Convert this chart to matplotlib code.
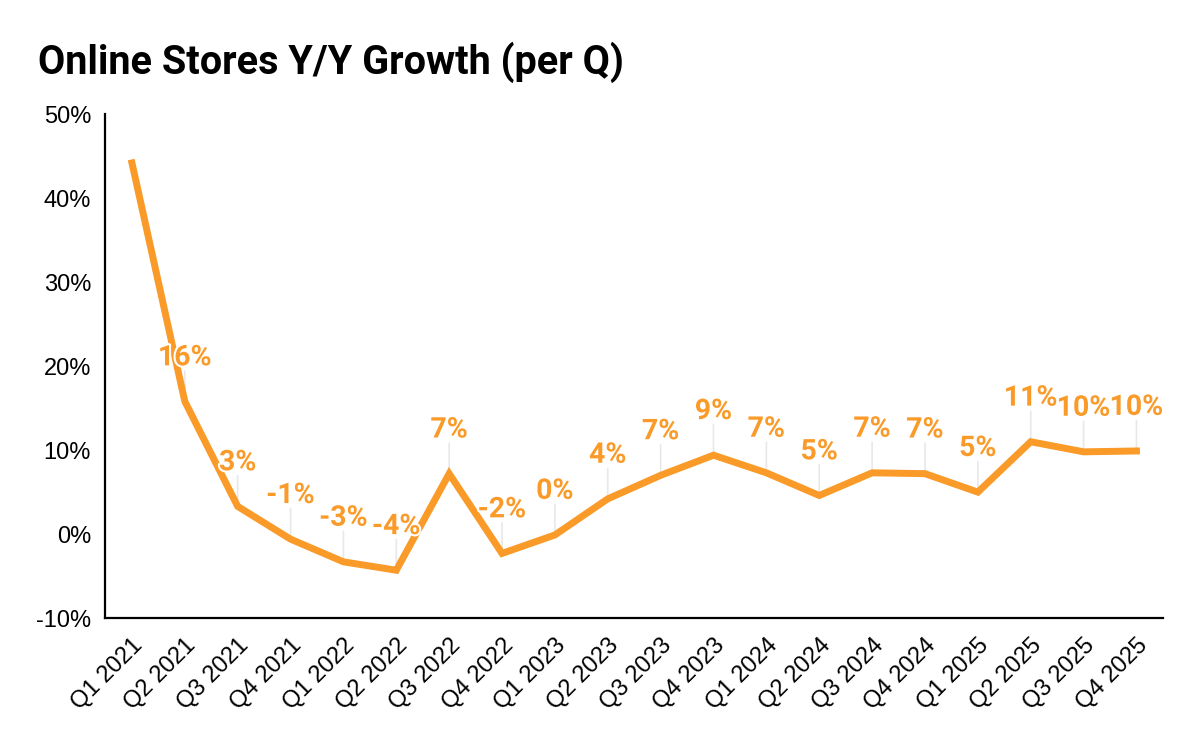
import matplotlib
matplotlib.use('Agg')
import matplotlib.pyplot as plt
import matplotlib.patheffects as pe
from matplotlib.ticker import FuncFormatter

#---- Data -------------------------------------------------------------------#

quarters = ['Q1 2021', 'Q2 2021', 'Q3 2021', 'Q4 2021',
            'Q1 2022', 'Q2 2022', 'Q3 2022', 'Q4 2022',
            'Q1 2023', 'Q2 2023', 'Q3 2023', 'Q4 2023',
            'Q1 2024', 'Q2 2024', 'Q3 2024', 'Q4 2024',
            'Q1 2025', 'Q2 2025', 'Q3 2025', 'Q4 2025']
growth = [44.2, 15.8, 3.3, -0.6, -3.3, -4.3, 7.2, -2.3, -0.1, 4.2,
          7.0, 9.4, 7.3, 4.6, 7.3, 7.2, 5.0, 11.0, 9.8, 9.9]
labels = ['', '16%', '3%', '-1%', '-3%', '-4%', '7%', '-2%', '0%', '4%',
          '7%', '9%', '7%', '5%', '7%', '7%', '5%', '11%', '10%', '10%']

orange = '#FA9A28'

#---- Plotting ---------------------------------------------------------------#

fig = plt.figure(figsize=(12, 7.42), dpi=100)
ax = fig.add_axes([0.0875, 0.167, 0.882, 0.679])

x = list(range(len(quarters)))

#Thin grey leader lines from each point up to its label
for i, v, lab in zip(x, growth, labels):
    if not lab:
        continue
    ax.annotate('', xy=(i, v), xytext=(0, 22), textcoords='offset points',
                arrowprops=dict(arrowstyle='-', color='#e8e8e8', lw=1.2,
                                shrinkA=0, shrinkB=0), zorder=1)

ax.plot(x, growth, color=orange, lw=5, solid_joinstyle='miter', zorder=2)

for i, v, lab in zip(x, growth, labels):
    if not lab:
        continue
    ax.annotate(lab, xy=(i, v), xytext=(0, 26), textcoords='offset points',
                ha='center', va='baseline', fontsize=20.5, fontweight='bold',
                family='Roboto', color=orange, zorder=3,
                path_effects=[pe.withStroke(linewidth=3, foreground='white')])

ax.set_xlim(-0.51, 19.51)
ax.set_ylim(-10, 50)
ax.set_yticks(range(-10, 51, 10))
ax.yaxis.set_major_formatter(FuncFormatter(lambda v, p: f'{v:.0f}%'))
ax.set_xticks(x)
ax.set_xticklabels(quarters, rotation=45, ha='right', rotation_mode='anchor',
                   family='Liberation Sans', fontsize=17)
for t in ax.get_yticklabels():
    t.set_family('Liberation Sans')
    t.set_fontsize(17)
ax.tick_params(axis='both', length=0)
ax.tick_params(axis='y', pad=10)
ax.tick_params(axis='x', pad=12)

for side in ['top', 'right']:
    ax.spines[side].set_visible(False)
for side in ['left', 'bottom']:
    ax.spines[side].set_linewidth(1.6)

fig.text(38/1200, 1 - 74/742, 'Online Stores Y/Y Growth (per Q)',
         fontsize=28.5, fontweight='bold', family='Roboto', va='baseline')

plt.savefig('out.png', dpi=100)
